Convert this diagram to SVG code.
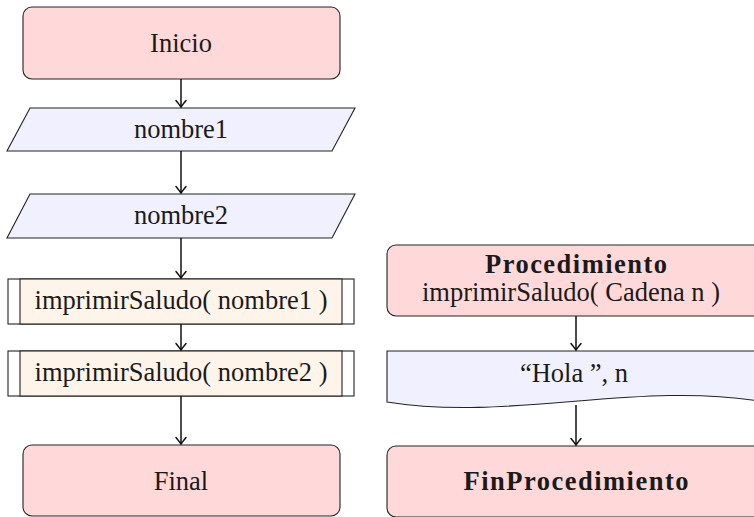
<svg xmlns="http://www.w3.org/2000/svg" width="754" height="517" viewBox="0 0 754 517">
<style>
.sh{stroke:#222;stroke-width:1.1}
.term{fill:#ffd9d9}
.io{fill:#f0f0ff}
.sub{fill:#fff4ea}
.t{font-family:'Liberation Serif','Times New Roman',serif;font-size:26.5px;fill:#1a1a1a;text-anchor:middle}
.b{font-weight:bold}
.c{stroke:#111;stroke-width:1.5;fill:none;marker-end:url(#ah)}
</style>
<defs>
<marker id="ah" viewBox="-8 -6 10 12" refX="0" refY="0" markerWidth="10" markerHeight="12" markerUnits="userSpaceOnUse" orient="auto">
<path d="M-6.5,-5 Q-1.5,-1 0,0 Q-1.5,1 -6.5,5" fill="none" stroke="#111" stroke-width="1.5" stroke-linecap="round"/>
</marker>
</defs>
<rect width="754" height="517" fill="#fff"/>
<g id="inicio">
<rect class="sh term" x="23" y="7" width="317" height="72" rx="9"/>
<text class="t" x="181" y="52">Inicio</text>
</g>
<g id="nombre1">
<polygon class="sh io" points="30,108 355,108 332,151 7,151"/>
<text class="t" x="181" y="138">nombre1</text>
</g>
<g id="nombre2">
<polygon class="sh io" points="30,194 355,194 332,238 7,238"/>
<text class="t" x="181" y="224">nombre2</text>
</g>
<g id="sub1">
<rect class="sh" x="8" y="279" width="346" height="45" fill="#fff"/>
<rect class="sh sub" x="20" y="279" width="322" height="45"/>
<text class="t" x="181" y="309">imprimirSaludo( nombre1 )</text>
</g>
<g id="sub2">
<rect class="sh" x="8" y="351" width="346" height="45" fill="#fff"/>
<rect class="sh sub" x="20" y="351" width="322" height="45"/>
<text class="t" x="181" y="381">imprimirSaludo( nombre2 )</text>
</g>
<g id="final">
<rect class="sh term" x="23" y="445" width="317" height="71" rx="9"/>
<text class="t" x="181" y="490">Final</text>
</g>
<g id="proc">
<rect class="sh term" x="387" y="245" width="378" height="71" rx="9"/>
<text class="t b" x="576" y="273" textLength="182" lengthAdjust="spacing">Procedimiento</text>
<text class="t" x="571" y="301">imprimirSaludo( Cadena n )</text>
</g>
<g id="hola">
<path class="sh io" d="M387,351 L765,351 L765,402 C640,380 510,422 387,402 Z"/>
<text class="t" x="574" y="382">“Hola ”, n</text>
</g>
<g id="finproc">
<rect class="sh term" x="387" y="446" width="378" height="71" rx="9"/>
<text class="t b" x="576" y="490" textLength="225" lengthAdjust="spacing">FinProcedimiento</text>
</g>
<g id="connectors">
<line class="c" x1="181" y1="79" x2="181" y2="107"/>
<line class="c" x1="181" y1="151" x2="181" y2="193"/>
<line class="c" x1="181" y1="238" x2="181" y2="278"/>
<line class="c" x1="181" y1="324" x2="181" y2="350"/>
<line class="c" x1="181" y1="396" x2="181" y2="444"/>
<line class="c" x1="576" y1="316" x2="576" y2="350"/>
<line class="c" x1="576" y1="405" x2="576" y2="445"/>
</g>
</svg>
